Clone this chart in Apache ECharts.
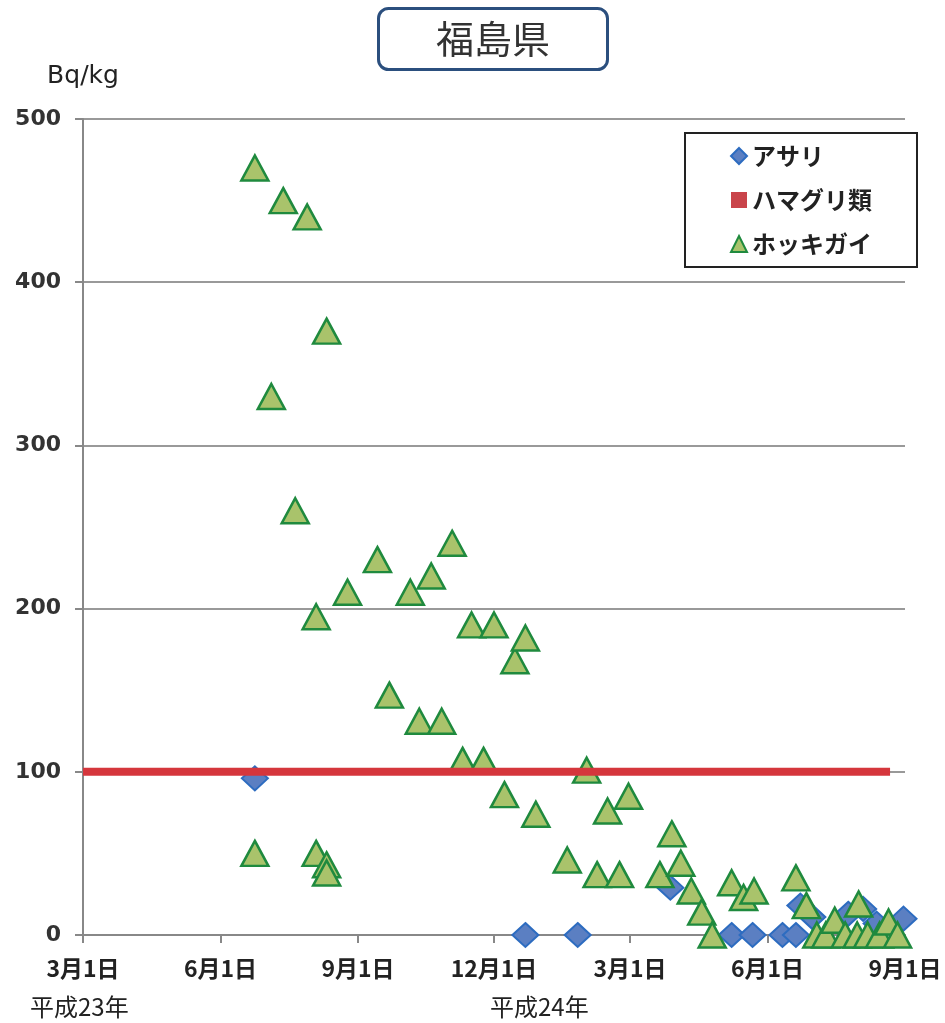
<!DOCTYPE html>
<html><head><meta charset="utf-8">
<script src="https://cdn.jsdelivr.net/npm/echarts@6/dist/echarts.min.js"></script>
<style>html,body{margin:0;padding:0;background:#fff}#c{width:945px;height:1023px}</style>
</head><body><div id="c"></div><script>
// ---- data ----
const titleText = '福島県';
const yUnit = 'Bq/kg';
const seriesNames = ['アサリ', 'ハマグリ類', 'ホッキガイ'];

const asariDates = ['2011-06-24','2011-12-22','2012-01-26','2012-03-28','2012-05-08','2012-05-22',
  '2012-06-11','2012-06-20','2012-06-23','2012-07-01','2012-07-25','2012-08-04','2012-08-13','2012-08-31'];
const asariValues = [96, 0, 0, 29, 0, 0, 0, 0, 18, 11, 13, 16, 7, 10];

const hamaguriDates = ['2011-03-01', '2012-08-22'];
const hamaguriValues = [100, 100];

const hokkigaiDates = ['2011-06-24','2011-06-24','2011-07-05','2011-07-13','2011-07-21','2011-07-29',
  '2011-08-04','2011-08-04','2011-08-11','2011-08-11','2011-08-11','2011-08-25','2011-09-14','2011-09-22',
  '2011-10-06','2011-10-12','2011-10-20','2011-10-27','2011-11-03','2011-11-10','2011-11-16','2011-11-24',
  '2011-12-01','2011-12-08','2011-12-15','2011-12-22','2011-12-29','2012-01-19','2012-02-01','2012-02-08',
  '2012-02-15','2012-02-23','2012-02-29','2012-03-21','2012-03-29','2012-04-04','2012-04-11','2012-04-18',
  '2012-04-25','2012-05-08','2012-05-16','2012-05-23','2012-06-20','2012-06-27','2012-07-04','2012-07-10',
  '2012-07-16','2012-07-23','2012-07-31','2012-08-01','2012-08-07','2012-08-15','2012-08-21','2012-08-27'];
const hokkigaiValues = [470, 50, 330, 450, 260, 440,
  195, 50, 370, 43, 38, 210, 230, 147,
  210, 131, 220, 131, 240, 107, 190, 107,
  190, 86, 168, 182, 74, 46, 101, 37,
  76, 37, 85, 37, 62, 44, 27, 14,
  0, 32, 23, 27, 35, 18, 0, 0,
  9, 0, 0, 19, 0, 0, 8, 0];

const xTickDates = ['2011-03-01','2011-06-01','2011-09-01','2011-12-01','2012-03-01','2012-06-01','2012-09-01'];
const xTickLabels = ['3月1日','6月1日','9月1日','12月1日','3月1日','6月1日','9月1日'];
const eraLabels = ['平成23年', '平成24年'];
const yTicks = [0, 100, 200, 300, 400, 500];

// ---- helpers: x is measured in days since the first tick date ----
function utc(s){ const p = s.split('-').map(Number); return Date.UTC(p[0], p[1]-1, p[2]); }
const origin = utc(xTickDates[0]);
function day(s){ return Math.round((utc(s) - origin) / 86400000); }
function pairs(ds, vs){ return ds.map((d,i)=>[day(d), vs[i]]); }
const xTickDays = xTickDates.map(day);

const chart = echarts.init(document.getElementById('c'), null, {renderer:'canvas'});
const jp = '"Noto Sans CJK JP", "Noto Sans", sans-serif';
const lat = '"DejaVu Sans", sans-serif';

chart.setOption({
  backgroundColor: '#fff',
  animation: false,
  title: {
    text: titleText, left: 378, top: 8,
    padding: [12, 58, 12, 58],
    borderColor: '#2b4f7e', borderWidth: 3, borderRadius: 10,
    textStyle: {fontFamily: jp, fontSize: 38, fontWeight: 'normal', color: '#333'}
  },
  legend: {
    data: [
      {name: seriesNames[0], icon: 'diamond'},
      {name: seriesNames[1], icon: 'rect'},
      {name: seriesNames[2], icon: 'triangle'}
    ],
    orient: 'vertical', left: 685, top: 133,
    padding: [11, 45, 11, 45],
    itemGap: 20, itemWidth: 16, itemHeight: 16,
    borderColor: '#222', borderWidth: 2,
    textStyle: {fontFamily: jp, fontSize: 24, fontWeight: 'bold', color: '#222'}
  },
  grid: {left: 83, right: 40, top: 119, bottom: 88},
  xAxis: {
    type: 'value', min: xTickDays[0], max: xTickDays[xTickDays.length-1],
    axisLine: {lineStyle: {color: '#888', width: 2}},
    axisTick: {show: true, customValues: xTickDays, length: 8, lineStyle: {color: '#888', width: 2}},
    axisLabel: {
      customValues: xTickDays, margin: 22, color: '#222',
      fontFamily: jp, fontSize: 23, fontWeight: 'bold',
      formatter: function(v){ const i = xTickDays.indexOf(v); return i >= 0 ? xTickLabels[i] : ''; }
    },
    splitLine: {show: false}
  },
  yAxis: {
    type: 'value', min: yTicks[0], max: yTicks[yTicks.length-1], interval: 100,
    name: yUnit, nameLocation: 'end', nameGap: 30,
    nameTextStyle: {fontFamily: lat, fontSize: 25, color: '#222', align: 'center'},
    axisLine: {show: true, lineStyle: {color: '#888', width: 2}},
    axisTick: {show: true, length: 8, lineStyle: {color: '#888', width: 2}},
    axisLabel: {margin: 22, fontFamily: lat, fontSize: 22, fontWeight: 'bold', color: '#333'},
    splitLine: {lineStyle: {color: '#999', width: 2}}
  },
  graphic: [
    {type: 'text', left: 30, top: 995, style: {text: eraLabels[0], font: '24px ' + jp, fill: '#222'}},
    {type: 'text', left: 490, top: 995, style: {text: eraLabels[1], font: '24px ' + jp, fill: '#222'}}
  ],
  series: [
    {
      name: seriesNames[0], type: 'scatter', z: 2,
      symbol: 'diamond', symbolSize: [26, 24],
      itemStyle: {color: '#5b7fc2', borderColor: '#2d6cc0', borderWidth: 2, opacity: 1},
      data: pairs(asariDates, asariValues)
    },
    {
      name: seriesNames[2], type: 'scatter', z: 3,
      symbol: 'triangle', symbolSize: [27, 25],
      itemStyle: {color: '#a9c36b', borderColor: '#1f8a3e', borderWidth: 2.5, opacity: 1},
      data: pairs(hokkigaiDates, hokkigaiValues)
    },
    {
      name: seriesNames[1], type: 'line', z: 4,
      symbol: 'none', showSymbol: false,
      itemStyle: {color: '#c9444a'},
      lineStyle: {color: '#d5363c', width: 8},
      data: pairs(hamaguriDates, hamaguriValues)
    }
  ]
});
</script></body></html>
